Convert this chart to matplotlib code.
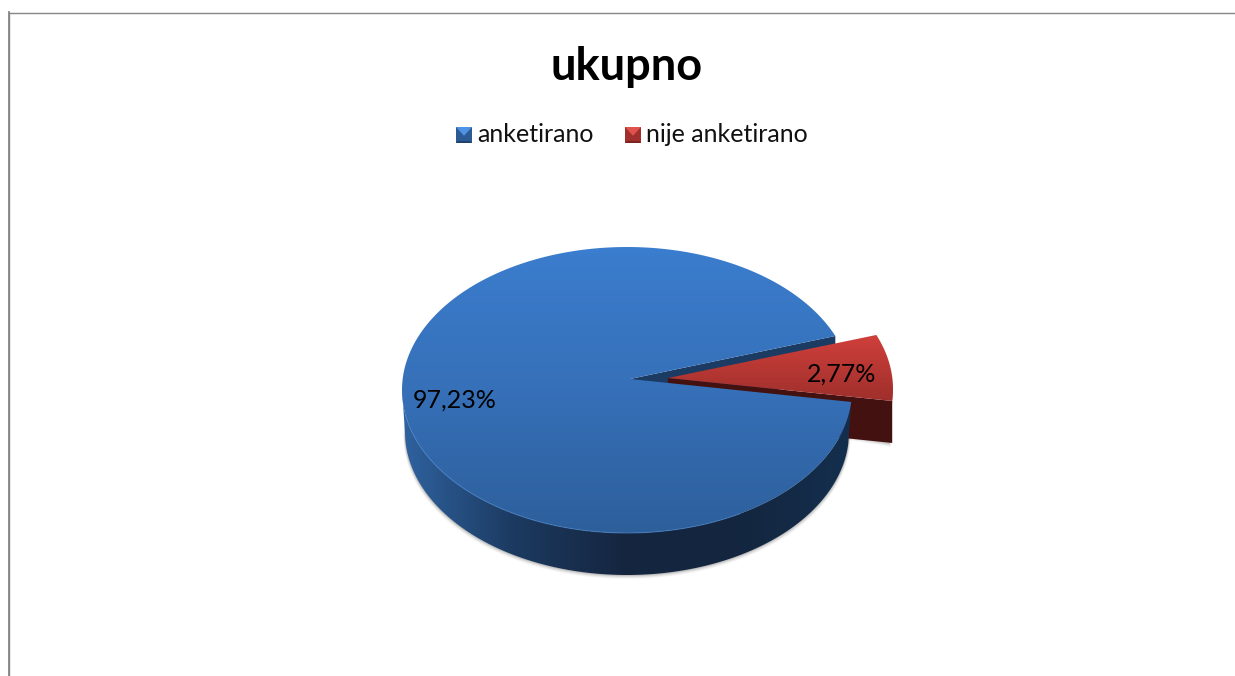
import matplotlib
matplotlib.use('Agg')
import matplotlib.pyplot as plt
import matplotlib.colors as mcolors
from matplotlib.patches import Polygon
import numpy as np

title = 'ukupno'
categories = ['anketirano', 'nije anketirano']
value_labels = ['97,23%', '2,77%']
# share of the circle as the slices are actually drawn in the picture
drawn_shares = [92.5, 7.5]

plt.rcParams['font.family'] = ['Lato', 'DejaVu Sans']

fig = plt.figure(figsize=(12.35, 6.76), dpi=100)
ax = fig.add_axes([0, 0, 1, 1])

cx, cy = 627, 390
rx, ry = 225, 143
rx_low = 222
depth = 42
apex_dx, apex_dy = 3, -11
explode = 41
start = 22.2


def arc(t0, t1, x0=cx, y0=cy, a=rx, b=ry):
    t = np.radians(np.linspace(t0, t1, 300))
    return np.column_stack([x0 + a * np.cos(t), y0 - b * np.sin(t)])


def fill_gradient(poly, z, stops, extent, horizontal=False):
    cmap = mcolors.LinearSegmentedColormap.from_list('g', stops)
    grad = np.linspace(0, 1, 256)
    grad = grad.reshape(1, -1) if horizontal else grad.reshape(-1, 1)
    im = ax.imshow(grad, cmap=cmap, extent=extent, aspect='auto', origin='upper', zorder=z)
    patch = Polygon(poly, closed=True, transform=ax.transData, fc='none', ec='none')
    ax.add_patch(patch)
    im.set_clip_path(patch)


blue_span = 360 * drawn_shares[0] / 100
end = start + blue_span
apex = np.array([cx + apex_dx, cy + apex_dy])
red_c = (cx + explode, cy - 1)
red_apex = apex + [explode - 3, -1]

# soft shadow under the pie
for off, al in [(4, 0.05), (3, 0.08), (2, 0.12), (1, 0.18)]:
    low = arc(175, 360, cx, cy + depth + off, rx_low + off * 0.4, ry)
    ax.add_patch(Polygon(low, closed=True, fc='#555555', ec='none', alpha=al, zorder=1))
    low_r = arc(end, 360, red_c[0], red_c[1] + depth + off, rx_low + off * 0.4, ry)
    low_r = np.vstack([low_r, [[red_c[0] + 150, red_c[1] + depth + off]]])
    ax.add_patch(Polygon(low_r, closed=True, fc='#555555', ec='none', alpha=al, zorder=1))

# inner cut wall of the big slice
p_up = arc(start, start)[0]
ax.add_patch(Polygon([apex, p_up, p_up + [0, depth], apex + [0, depth]], closed=True,
                     fc='#1b3b63', ec='none', zorder=2))

# exploded slice
r0, r1 = arc(end - 360, start, red_c[0], red_c[1])[[0, -1]]
red_rim = np.vstack([arc(end - 360, 0, red_c[0], red_c[1]),
                     arc(0, end - 360, red_c[0], red_c[1] + depth, rx_low)])
ax.add_patch(Polygon(red_rim, closed=True, fc='#43110f', ec='none', zorder=3))
ax.add_patch(Polygon([red_apex, r0, r0 + [0, depth], red_apex + [0, depth]], closed=True,
                     fc='#43110f', ec='none', zorder=3))
red_top = np.vstack([[red_apex], arc(end - 360, start, red_c[0], red_c[1])])
fill_gradient(red_top, 4, ['#d2403b', '#9c2e2b'], (660, 900, 405, 332))

# outer wall of the big slice
wall = np.vstack([arc(180, end), arc(end, 180, cx, cy + depth, rx_low)])
fill_gradient(wall, 5, ['#2f629f', '#1c3a60', '#15253f', '#14263f', '#132f4e'],
              (402, 852, 580, 380), horizontal=True)

# top of the big slice
blue_top = np.vstack([[apex], arc(start, end)])
fill_gradient(blue_top, 6, ['#3b7dce', '#3670b8', '#2d5f9b'], (402, 852, 533, 247))
ax.plot(*arc(190, 300).T, color='#4a86d0', lw=0.8, alpha=0.6, zorder=7)

ax.text(455, 400, value_labels[0], fontsize=18, ha='center', va='center', color='black', zorder=9)
ax.text(842, 374, value_labels[1], fontsize=18, ha='center', va='center', color='black', zorder=9)

ax.text(627, 67, title, fontsize=32.5, fontweight='bold', ha='center', va='center', color='black')

# legend
swatch_x = [456, 625]
swatch_cols = [('#2c5a94', '#4f93e4', '#2c5f9f', '#1f426e'), ('#a0302d', '#e0524d', '#b03532', '#7a2320')]
for x, name, (base, top, side, bot) in zip(swatch_x, categories, swatch_cols):
    y = 127
    s = 16
    ax.add_patch(Polygon([(x, y), (x + s, y), (x + s, y + s), (x, y + s)], closed=True, fc=base, ec='none', zorder=3))
    ax.add_patch(Polygon([(x, y), (x + s, y), (x + s / 2, y + s * 0.55)], closed=True, fc=top, ec='none', zorder=4))
    ax.add_patch(Polygon([(x, y + s), (x + s, y + s), (x + s - 2, y + s - 2), (x + 2, y + s - 2)], closed=True,
                         fc=bot, ec='none', zorder=4))
    ax.text(x + 21, 134, name, fontsize=18, ha='left', va='center', color='#111111')

# frame of the chart area, cropped on the right and bottom
ax.plot([9, 9, 1235], [676, 12.5, 12.5], color='#868686', lw=1.0, solid_joinstyle='miter')
ax.plot([9, 9], [676, 12], color='#868686', lw=1.3)

ax.set_xlim(0, 1235)
ax.set_ylim(676, 0)
ax.axis('off')
fig.savefig('out.png', dpi=100, facecolor='white')
